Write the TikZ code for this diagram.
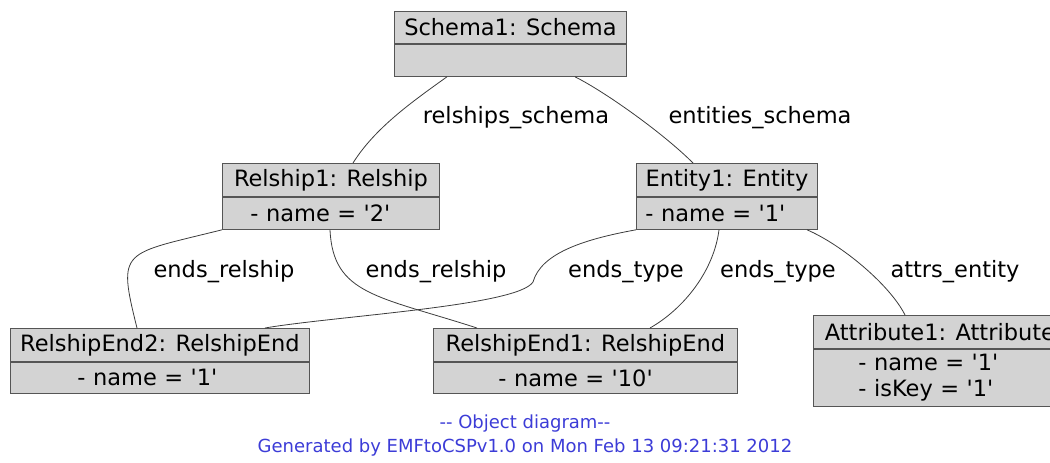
\documentclass[tikz,border=0pt]{standalone}
\usepackage{fontspec}
\newfontfamily\umlfont{DejaVu Sans}
\definecolor{boxfill}{RGB}{211,211,211}
\definecolor{boxline}{RGB}{85,85,85}
\definecolor{linkline}{RGB}{60,60,60}
\definecolor{footblue}{RGB}{60,60,215}
\begin{document}
\begin{tikzpicture}[x=1pt,y=-1pt,
    objhead/.style={draw=boxline, fill=boxfill, line width=0.9pt, anchor=north west, inner sep=0pt, font=\umlfont\fontsize{22.5}{26}\selectfont},
    objattr/.style={objhead, inner xsep=0pt, align=left, text width=#1},
    link/.style={draw=linkline, line width=0.8pt},
    role/.style={font=\umlfont\fontsize{22.5}{26}\selectfont},
    footer/.style={text=footblue, align=center, font=\umlfont\fontsize{18}{24}\selectfont}]
    \useasboundingbox (0,0) rectangle (1050,463);

    % objects
    \node[objhead, minimum width=232pt, minimum height=32pt] (schema) at (394,11) {Schema1: Schema};
    \node[objattr=200pt, minimum width=232pt, minimum height=32pt] (schemaattr) at (schema.south west) {};

    \node[objhead, minimum width=217pt, minimum height=33pt] (relship) at (222,163) {Relship1: Relship};
    \node[objattr=161pt, minimum width=217pt, minimum height=32pt] (relattr) at (relship.south west) {- name = '2'};

    \node[objhead, minimum width=181pt, minimum height=33pt] (entity) at (636,163) {Entity1: Entity};
    \node[objattr=163pt, minimum width=181pt, minimum height=32pt] (entattr) at (entity.south west) {- name = '1'};

    \node[objhead, minimum width=299pt, minimum height=33pt] (relend2) at (10,328) {RelshipEnd2: RelshipEnd};
    \node[objattr=165pt, minimum width=299pt, minimum height=31pt] (relend2attr) at (relend2.south west) {- name = '1'};

    \node[objhead, minimum width=304pt, minimum height=33pt] (relend1) at (433,328) {RelshipEnd1: RelshipEnd};
    \node[objattr=174pt, minimum width=304pt, minimum height=31pt] (relend1attr) at (relend1.south west) {- name = '10'};

    \node[objhead, minimum width=253pt, minimum height=33pt] (attrib) at (813,315) {Attribute1: Attribute};
    \node[objattr=163pt, minimum width=253pt, minimum height=57pt] (attribattr) at (attrib.south west) {- name = '1'\\- isKey = '1'};

    % links
    \coordinate (typebend) at (533,282);
    \draw[link] ([xshift=53pt]schemaattr.south west) .. controls +(-35,25) and +(22,-35) .. ([xshift=131pt]relship.north west);
    \draw[link] ([xshift=181pt]schemaattr.south west) .. controls +(30,15) and +(-30,-30) .. ([xshift=57pt]entity.north west);
    \draw[link] (relattr.south west) .. controls +(-100,25) and +(-20,-80) .. ([xshift=127pt]relend2.north west);
    \draw[link] ([xshift=108pt]relattr.south west) .. controls +(3,65) and +(-99,-32) .. ([xshift=44pt]relend1.north west);
    \draw[link] (entattr.south west) .. controls +(-55,10) and +(8,-28) .. (typebend)
        .. controls +(-15,24) and +(70,-12) .. ([xshift=255pt]relend2.north west);
    \draw[link] ([xshift=83pt]entattr.south west) .. controls +(-5,40) and +(35,-20) .. ([xshift=217pt]relend1.north west);
    \draw[link] ([xshift=171pt]entattr.south west) .. controls +(35,15) and +(-15,-30) .. ([xshift=92pt]attrib.north west);

    % role names
    \node[role] (rsrole) at (516,118) {relships\_schema};
    \node[role] (esrole) at (760,118) {entities\_schema};
    \node[role] (er2role) at (224,272) {ends\_relship};
    \node[role] (er1role) at (436,272) {ends\_relship};
    \node[role] (et2role) at (626,272) {ends\_type};
    \node[role] (et1role) at (778,272) {ends\_type};
    \node[role] (aerole) at (955,272) {attrs\_entity};

    \node[footer] (footnote) at (525,436) {-- Object diagram--\\Generated by EMFtoCSPv1.0 on Mon Feb 13 09:21:31 2012};
\end{tikzpicture}
\end{document}
